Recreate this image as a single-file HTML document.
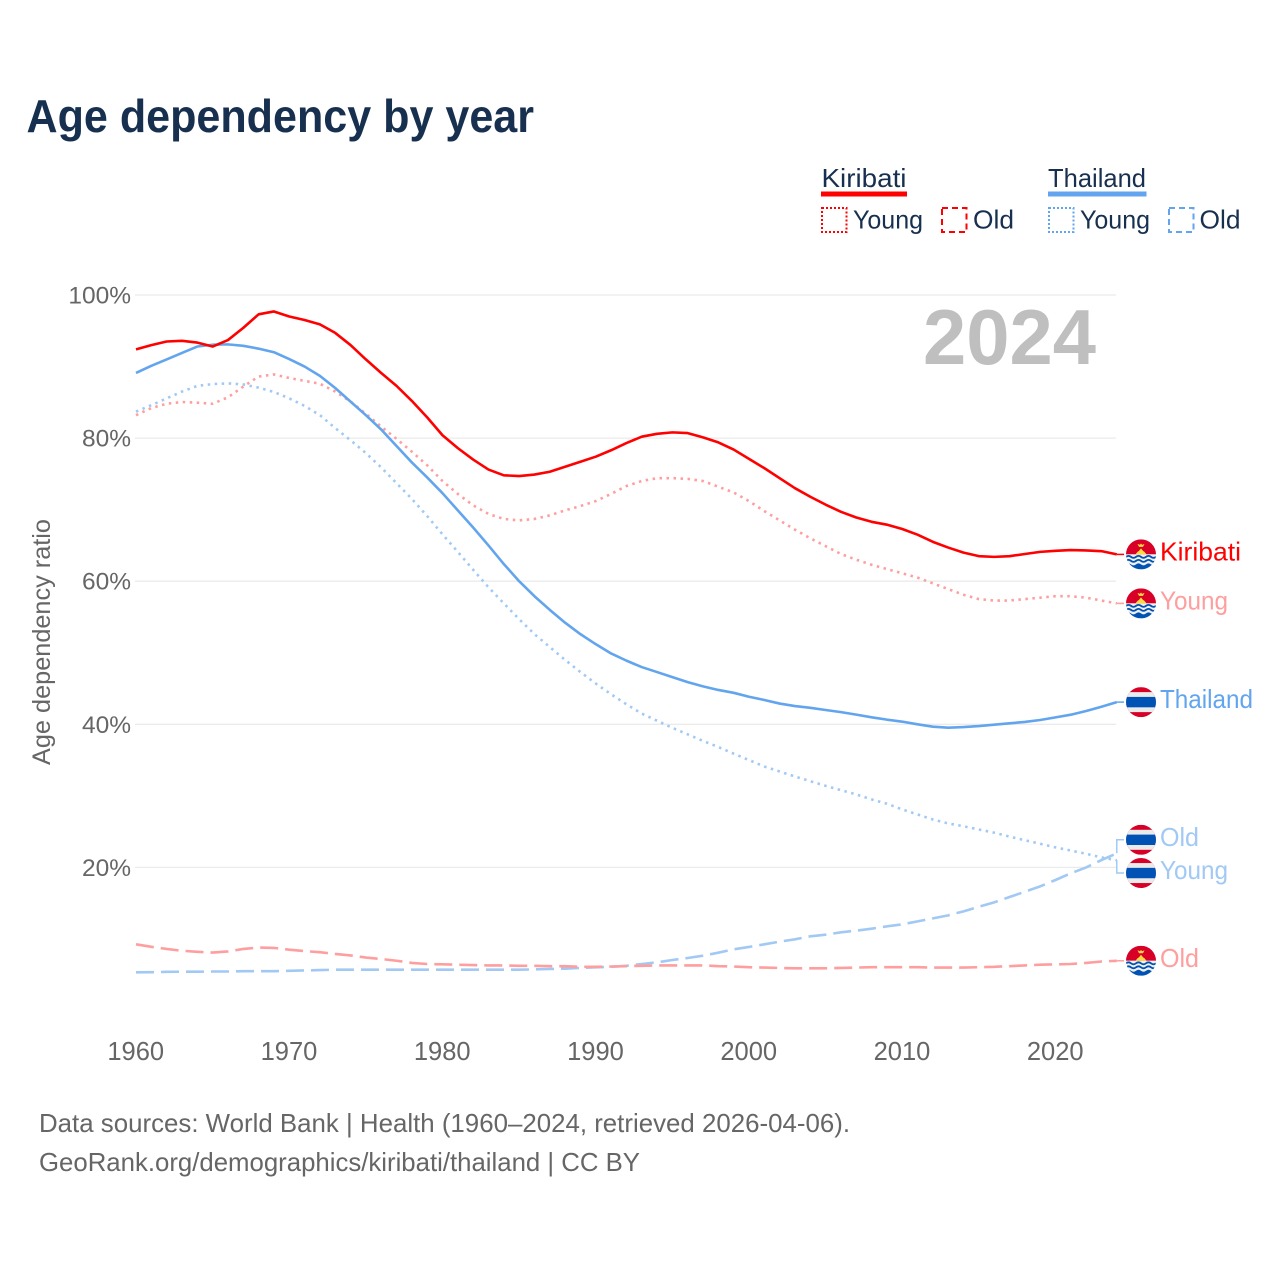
<!DOCTYPE html>
<html lang="en">
<head>
<meta charset="utf-8">
<title>Age dependency by year</title>
<style>
html,body{margin:0;padding:0;background:#fff;}
svg{display:block;font-family:"Liberation Sans",Arial,sans-serif;}
</style>
</head>
<body>
<svg id="chart" xmlns="http://www.w3.org/2000/svg" width="1280" height="1280" viewBox="0 0 1280 1280">
  <defs>
    <clipPath id="flag-clip"><circle cx="0" cy="0" r="15"/></clipPath>
    <symbol id="flag-kiribati" viewBox="-15 -15 30 30" overflow="visible">
      <g clip-path="url(#flag-clip)">
        <rect x="-15" y="-15" width="30" height="15" fill="#d80027"/>
        <rect x="-15" y="0" width="30" height="15" fill="#f0f0f0"/>
        <path d="M-5.5 0 L-3.5 -2.5 L-2 -3.5 L0 -6 L2 -3.5 L3.5 -2.5 L5.5 0 Z" fill="#ffda44"/>
        <path d="M-3.5 -10.5 L-1 -9.5 L0 -11 L1 -9.5 L3.5 -10.5 L2 -7.5 L-2 -7.5 Z" fill="#ffda44"/>
        <path d="M-15 2.5 q2.5 -2 5 0 t5 0 t5 0 t5 0 t5 0 t5 0" fill="none" stroke="#0052b4" stroke-width="1.8"/>
        <path d="M-15 6.5 q2.5 -2 5 0 t5 0 t5 0 t5 0 t5 0 t5 0" fill="none" stroke="#0052b4" stroke-width="1.8"/>
        <path d="M-15 10 q2.5 -2 5 0 t5 0 t5 0 t5 0 t5 0 t5 0 V15 H-15 Z" fill="#0052b4"/>
      </g>
    </symbol>
    <symbol id="flag-thailand" viewBox="-15 -15 30 30" overflow="visible">
      <g clip-path="url(#flag-clip)">
        <rect x="-15" y="-15" width="30" height="30" fill="#d80027"/>
        <rect x="-15" y="-10" width="30" height="20" fill="#ebebeb"/>
        <rect x="-15" y="-5.2" width="30" height="10.4" fill="#0052b4"/>
      </g>
    </symbol>
  </defs>

  <text x="26.5" y="132" font-size="46" font-weight="700" fill="#18304f" textLength="507.5" lengthAdjust="spacingAndGlyphs">Age dependency by year</text>

  <g font-size="26" fill="#18304f">
    <text x="821.5" y="187" textLength="85" lengthAdjust="spacingAndGlyphs">Kiribati</text>
    <rect x="821" y="191.5" width="86" height="5" fill="#ff0000"/>
    <rect x="822" y="208" width="24.5" height="24" fill="none" stroke="#ff0000" stroke-width="2" stroke-dasharray="2 2"/>
    <text x="853" y="228.5" textLength="70" lengthAdjust="spacingAndGlyphs">Young</text>
    <rect x="942" y="208" width="24.5" height="24" fill="none" stroke="#ff0000" stroke-width="2" stroke-dasharray="6 4"/>
    <text x="973" y="228.5" textLength="41" lengthAdjust="spacingAndGlyphs">Old</text>
    <text x="1048" y="187" textLength="98" lengthAdjust="spacingAndGlyphs">Thailand</text>
    <rect x="1048" y="191.5" width="98.5" height="5" fill="#62a5ee"/>
    <rect x="1049" y="208" width="24.5" height="24" fill="none" stroke="#62a5ee" stroke-width="2" stroke-dasharray="2 2"/>
    <text x="1080" y="228.5" textLength="70" lengthAdjust="spacingAndGlyphs">Young</text>
    <rect x="1169" y="208" width="24.5" height="24" fill="none" stroke="#62a5ee" stroke-width="2" stroke-dasharray="6 4"/>
    <text x="1199.5" y="228.5" textLength="41" lengthAdjust="spacingAndGlyphs">Old</text>
  </g>

  <g id="grid"></g>
  <g id="y-ticks"></g>
  <g id="x-ticks"></g>

  <text x="923" y="364" font-size="78" font-weight="700" fill="#bfbfbf" textLength="173" lengthAdjust="spacingAndGlyphs">2024</text>

  <text transform="translate(50,642) rotate(-90)" text-anchor="middle" font-size="25" fill="#666666" textLength="246" lengthAdjust="spacingAndGlyphs">Age dependency ratio</text>

  <g id="series"></g>
  <g id="end-labels"></g>

  <g font-size="26" fill="#666666">
    <text x="39" y="1132" textLength="811" lengthAdjust="spacingAndGlyphs">Data sources: World Bank | Health (1960–2024, retrieved 2026-04-06).</text>
    <text x="39" y="1171" textLength="601" lengthAdjust="spacingAndGlyphs">GeoRank.org/demographics/kiribati/thailand | CC BY</text>
  </g>
</svg>

<script>
const startYear = 1960;
const yTickValues = [20, 40, 60, 80, 100];
const xTickYears = [1960, 1970, 1980, 1990, 2000, 2010, 2020];

const kiribatiTotal = [92.4,93.0,93.5,93.6,93.35,92.8,93.7,95.4,97.3,97.7,97.0,96.5,95.9,94.7,93.0,91.0,89.1,87.3,85.2,82.9,
  80.4,78.6,77.0,75.6,74.8,74.7,74.9,75.3,76.0,76.7,77.4,78.3,79.3,80.2,80.6,80.8,80.7,80.1,79.4,78.4,
  77.1,75.8,74.4,73.0,71.8,70.7,69.7,68.9,68.3,67.9,67.3,66.5,65.5,64.7,64.0,63.5,63.4,63.5,63.8,64.1,
  64.25,64.35,64.3,64.2,63.75];
const kiribatiYoung = [83.2,84.2,84.8,85.05,84.95,84.8,85.7,87.2,88.6,88.9,88.4,88.0,87.6,86.5,85.1,83.4,81.6,79.9,78.1,76.2,
  74.0,72.2,70.6,69.4,68.7,68.5,68.7,69.2,69.9,70.5,71.2,72.2,73.3,74.0,74.4,74.4,74.3,74.0,73.2,72.4,
  71.2,69.8,68.5,67.2,66.0,64.9,63.8,63.0,62.3,61.7,61.1,60.5,59.7,58.9,58.1,57.5,57.3,57.3,57.5,57.7,
  57.9,57.9,57.7,57.3,56.9];
const kiribatiOld = [9.25,8.9,8.6,8.35,8.2,8.1,8.25,8.6,8.8,8.75,8.5,8.3,8.15,7.9,7.7,7.4,7.2,6.95,6.65,6.5,
  6.45,6.4,6.35,6.3,6.3,6.25,6.25,6.2,6.2,6.1,6.1,6.15,6.2,6.25,6.3,6.3,6.3,6.3,6.2,6.15,
  6.05,6.0,5.95,5.9,5.9,5.9,5.95,6.0,6.05,6.05,6.05,6.05,6.0,6.0,6.0,6.05,6.1,6.2,6.3,6.4,
  6.45,6.5,6.65,6.85,6.95];
const thailandTotal = [89.1,90.1,91.0,91.9,92.8,93.05,93.1,92.9,92.5,92.0,91.05,90.0,88.7,87.0,85.1,83.2,81.2,78.9,76.6,74.5,
  72.3,69.9,67.5,65.0,62.4,60.0,57.9,56.0,54.2,52.6,51.2,49.9,48.9,48.0,47.3,46.6,45.9,45.3,44.8,44.4,
  43.85,43.4,42.9,42.55,42.3,42.0,41.7,41.35,40.98,40.65,40.37,40.0,39.67,39.53,39.62,39.76,39.95,40.14,40.33,40.6,
  40.97,41.34,41.86,42.46,43.1];
const thailandYoung = [83.7,84.6,85.55,86.5,87.3,87.55,87.65,87.5,87.05,86.45,85.55,84.5,83.2,81.4,79.7,77.9,75.9,73.7,71.5,69.1,
  66.55,64.1,61.6,59.15,56.9,54.7,52.6,50.8,49.0,47.3,45.7,44.2,42.8,41.5,40.5,39.5,38.6,37.67,36.83,35.9,
  35.0,34.1,33.4,32.7,32.05,31.4,30.8,30.2,29.5,28.9,28.1,27.4,26.7,26.15,25.75,25.3,24.85,24.3,23.8,23.3,
  22.8,22.35,21.9,21.4,21.0];
const thailandOld = [5.33,5.35,5.4,5.42,5.42,5.45,5.45,5.5,5.5,5.5,5.55,5.6,5.65,5.7,5.7,5.7,5.7,5.7,5.7,5.7,
  5.7,5.7,5.7,5.7,5.7,5.7,5.75,5.8,5.85,5.95,6.03,6.1,6.25,6.5,6.73,7.06,7.34,7.66,8.08,8.55,
  8.88,9.25,9.62,9.95,10.37,10.6,10.93,11.16,11.44,11.76,12.04,12.46,12.88,13.3,13.86,14.51,15.12,15.86,16.6,17.35,
  18.24,19.17,20.0,21.03,21.97];

const SVGNS = 'http://www.w3.org/2000/svg';
function xScale(year){ return 136 + (year - startYear) * 15.325; }
function yScale(v){ return 1010.5 - v * 7.155; }
function make(tag, attrs, parent, text){
  const el = document.createElementNS(SVGNS, tag);
  for (const k in attrs) el.setAttribute(k, attrs[k]);
  if (text !== undefined) el.textContent = text;
  parent.appendChild(el);
  return el;
}

const gridG = document.getElementById('grid');
const yTickG = document.getElementById('y-ticks');
const xTickG = document.getElementById('x-ticks');
const seriesG = document.getElementById('series');
const labelG = document.getElementById('end-labels');

yTickValues.forEach(function(v){
  const line = make('line', {x1:135, x2:1116, y1:yScale(v), y2:yScale(v), stroke:'#ebebeb', 'stroke-width':1.3}, gridG);
  
  
  const t = make('text', {x:131, y:yScale(v)+8.5, 'text-anchor':'end', 'font-size':24.5, fill:'#666666'}, yTickG, v + '%');
  
  
});

xTickYears.forEach(function(y){
  const t = make('text', {x:xScale(y)-0.3, y:1060, 'text-anchor':'middle', 'font-size':25.5, fill:'#666666'}, xTickG, String(y));
  
  
});

const DOT = '2.5 4.5';
const DASH = '18 7';
const RED = '#ff0000';
const RED_L = '#ff9e9e';
const BLUE = '#62a5ee';
const BLUE_L = '#a1c9f4';

const seriesList = [
  {key:'thailand-old', data:thailandOld, color:BLUE_L, dash:DASH, label:'Old', flag:'flag-thailand', dodge:-13.5},
  {key:'kiribati-old', data:kiribatiOld, color:RED_L, dash:DASH, label:'Old', flag:'flag-kiribati', dodge:0},
  {key:'thailand-young', data:thailandYoung, color:BLUE_L, dash:DOT, label:'Young', flag:'flag-thailand', dodge:12.8},
  {key:'kiribati-young', data:kiribatiYoung, color:RED_L, dash:DOT, label:'Young', flag:'flag-kiribati', dodge:0},
  {key:'thailand-total', data:thailandTotal, color:BLUE, dash:null, label:'Thailand', flag:'flag-thailand', dodge:0},
  {key:'kiribati-total', data:kiribatiTotal, color:RED, dash:null, label:'Kiribati', flag:'flag-kiribati', dodge:0}
];

seriesList.forEach(function(s){
  const d = s.data.map(function(v, i){
    return (i ? 'L' : 'M') + xScale(startYear + i).toFixed(2) + ' ' + yScale(v).toFixed(2);
  }).join(' ');
  const attrs = {d:d, fill:'none', stroke:s.color, 'stroke-width':2.6, 'stroke-linejoin':'round'};
  if (s.dash) attrs['stroke-dasharray'] = s.dash;
  const path = make('path', attrs, seriesG);
  
  

  const last = s.data[s.data.length - 1];
  const endX = xScale(startYear + s.data.length - 1);
  const endY = yScale(last);
  const ly = endY + s.dodge;

  let leaderPath;
  if (s.dodge !== 0) {
    leaderPath = 'M' + endX + ' ' + endY.toFixed(1) + ' V' + ly.toFixed(1) + ' H1124';
  } else {
    leaderPath = 'M' + endX + ' ' + endY.toFixed(1) + ' H1124';
  }
  const leader = make('path', {d:leaderPath, fill:'none', stroke:s.color, 'stroke-width':1.5}, labelG);
  
  

  const flag = make('use', {href:'#' + s.flag, x:1126, y:ly-15, width:30, height:30}, labelG);
  
  

  const widths = {Kiribati:81, Thailand:93, Young:68, Old:39};
  const t = make('text', {x:1160, y:ly+6, 'font-size':26, fill:s.color, textLength:widths[s.label], lengthAdjust:'spacingAndGlyphs'}, labelG, s.label);
  
  
});
</script>
</body>
</html>
